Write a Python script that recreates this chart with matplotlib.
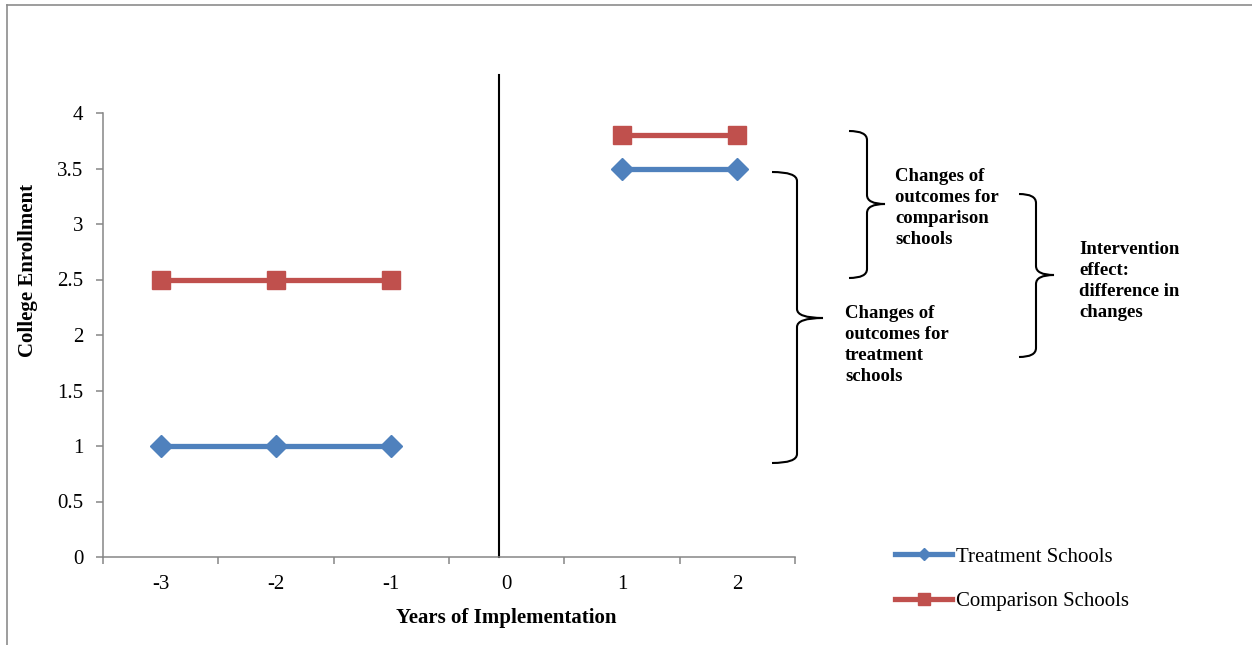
import numpy as np
import matplotlib
matplotlib.use("Agg")
import matplotlib.pyplot as plt
from matplotlib.path import Path
from matplotlib.patches import PathPatch
from matplotlib.lines import Line2D
from matplotlib.transforms import Affine2D

# Difference-in-differences sketch: college enrollment before/after implementation

years = [-3, -2, -1, 0, 1, 2]
year_labels = ["-3", "-2", "-1", "0", "1", "2"]
treatment = [1.0, 1.0, 1.0, np.nan, 3.5, 3.5]
comparison = [2.5, 2.5, 2.5, np.nan, 3.8, 3.8]
y_ticks = [0, 0.5, 1, 1.5, 2, 2.5, 3, 3.5, 4]
series_names = ["Treatment Schools", "Comparison Schools"]

brace_texts = [
    "Changes of\noutcomes for\ncomparison\nschools",
    "Changes of\noutcomes for\ntreatment\nschools",
    "Intervention\neffect:\ndifference in\nchanges",
]

W, H = 1252, 645
blue = "#4F81BD"
red = "#C0504D"
gray = "#868686"

plt.rcParams["font.family"] = ["Liberation Serif", "DejaVu Serif"]
plt.rcParams["axes.unicode_minus"] = False

fig = plt.figure(figsize=(W / 100, H / 100), dpi=100)
ax = fig.add_axes([103 / W, 1 - 557 / H, (795 - 103) / W, (557 - 113) / H])

ax.plot(years, treatment, color=blue, lw=3.8, marker="D", ms=11,
        mfc=blue, mec=blue, label=series_names[0], zorder=3)
ax.plot(years, comparison, color=red, lw=3.8, marker="s", ms=13,
        mfc=red, mec=red, label=series_names[1], zorder=3)

# implementation line (drawn a little above the plot area)
ax.plot([-0.07, -0.07], [0, 4.34], color="black", lw=1.5, clip_on=False, zorder=2)

ax.set_xlim(-3.5, 2.5)
ax.set_ylim(0, 4)

# category axis: ticks between categories, labels in the middle
ax.set_xticks(np.arange(-3.5, 2.6, 1.0))
ax.set_xticklabels([])
ax.set_xticks(years, minor=True)
ax.set_xticklabels(year_labels, minor=True)
ax.tick_params(axis="x", which="major", direction="out", length=5, width=1.1, color=gray)
ax.tick_params(axis="x", which="minor", length=0, pad=13, labelsize=15)
ax.set_yticks(y_ticks)
ax.set_yticklabels([f"{v:g}" for v in y_ticks])
ax.tick_params(axis="y", direction="out", length=5, width=1.1, color=gray, pad=9, labelsize=15)

for side in ["top", "right"]:
    ax.spines[side].set_visible(False)
for side in ["left", "bottom"]:
    ax.spines[side].set_color(gray)
    ax.spines[side].set_linewidth(1.1)

fig.text(506 / W, 1 - 618 / H, "Years of Implementation", ha="center", va="center",
         fontsize=15, fontweight="bold")
fig.text(28 / W, 1 - 270 / H, "College Enrollment", ha="center", va="center",
         rotation=90, fontsize=15, fontweight="bold")

# curly braces, in figure pixels (x_left, x_mid, x_tip, y_top, y_tip, y_bot)
px = Affine2D().scale(1 / W, -1 / H).translate(0, 1) + fig.transFigure


def brace(x_left, x_mid, x_tip, y_top, y_tip, y_bot, r=9):
    verts = [(x_left, y_top), (x_mid, y_top), (x_mid, y_top + r),
             (x_mid, y_tip - r), (x_mid, y_tip), (x_tip, y_tip),
             (x_mid, y_tip), (x_mid, y_tip + r),
             (x_mid, y_bot - r), (x_mid, y_bot), (x_left, y_bot)]
    codes = [Path.MOVETO, Path.CURVE3, Path.CURVE3,
             Path.LINETO, Path.CURVE3, Path.CURVE3,
             Path.CURVE3, Path.CURVE3,
             Path.LINETO, Path.CURVE3, Path.CURVE3]
    fig.add_artist(PathPatch(Path(verts, codes), fill=False, lw=1.5,
                             edgecolor="black", transform=px))


brace(849, 867, 885, 131, 204, 278)
brace(772, 797, 823, 172, 318, 463)
brace(1019, 1036, 1054, 194, 275, 357)

text_pos = [(895, 208), (845, 345), (1079, 281)]
for (tx, ty), s in zip(text_pos, brace_texts):
    fig.text(tx / W, 1 - ty / H, s, ha="left", va="center", fontsize=13.5,
             fontweight="bold", linespacing=1.31)

leg = fig.legend(loc="center left", bbox_to_anchor=(895 / W, 1 - 579 / H),
                 frameon=False, fontsize=15, handlelength=2.75, handletextpad=0.2,
                 labelspacing=1.2, borderpad=0, borderaxespad=0)
leg.legend_handles[0].set_markersize(6)
leg.legend_handles[1].set_markersize(8)

# chart area border (only top and left edges are visible)
fig.add_artist(Line2D([7 / W, 1], [1 - 5 / H, 1 - 5 / H], color="#8c8c8c", lw=1.2))
fig.add_artist(Line2D([7 / W, 7 / W], [0, 1 - 5 / H], color="#8c8c8c", lw=1.2))

fig.savefig("out.png", dpi=100)
